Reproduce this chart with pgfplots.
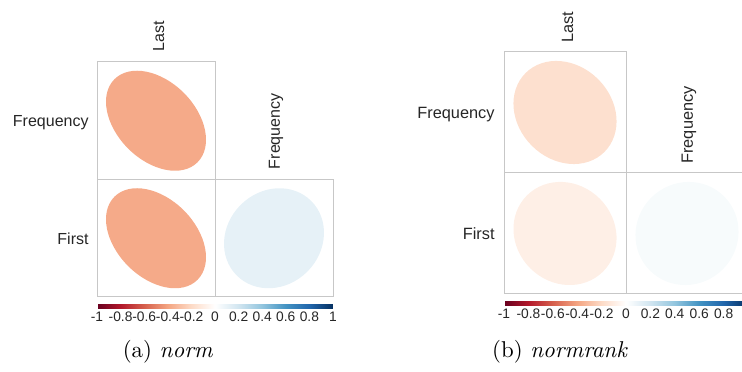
\documentclass[border=0pt]{standalone}
\usepackage{fontspec}
\usepackage{pgfplots}
\usepackage{pgfplotstable}
\pgfplotsset{compat=1.18}
\newfontfamily\arial{Liberation Sans}

% correlations (lower triangle): x = column (0.5 Last, 1.5 Frequency), y = row (1.5 Frequency, 0.5 First)
\pgfplotstableread{
x y r
0.5 1.5 -0.38
0.5 0.5 -0.38
1.5 0.5 0.11
}\corrnorm
\pgfplotstableread{
x y r
0.5 1.5 -0.17
0.5 0.5 -0.09
1.5 0.5 0.035
}\corrnormrank

\def\ellS{22.5}
\pgfdeclareplotmark{corrE}{%
  \pgfmathsetmacro\hh{acos(\rval)/2}%
  \pgfmathsetmacro\ca{\ellS*cos(\hh)}%
  \pgfmathsetmacro\sa{\ellS*sin(\hh)}%
  \pgfpathellipse{\pgfpointorigin}{\pgfpoint{\ca pt}{\ca pt}}{\pgfpoint{\sa pt}{-\sa pt}}%
  \pgfusepathqfill
}

\pgfplotsset{
  corrbase/.style={
    scale only axis, clip=false,
    xmin=0, xmax=2, ymin=0, ymax=2,
    axis line style={draw=none},
    xtick=\empty, ytick=\empty,
    colormap={RdBu}{rgb255=(103,0,31) rgb255=(178,24,43) rgb255=(214,96,77) rgb255=(244,165,130) rgb255=(253,219,199) rgb255=(255,255,255) rgb255=(209,229,240) rgb255=(146,197,222) rgb255=(67,147,195) rgb255=(33,102,172) rgb255=(5,48,97)},
    point meta min=-1, point meta max=1,
    colorbar horizontal,
    colorbar style={
      at={(parent axis.south west)}, anchor=north west, yshift=4.95pt,
      height=1.8pt,
      axis line style={draw=none},
      tick style={draw=none},
      xtick={-1,-0.8,-0.6,-0.4,-0.2,0,0.2,0.4,0.6,0.8,1},
      xticklabels={-1,-0.8,-0.6,-0.4,-0.2,0,0.2,0.4,0.6,0.8,1},
      major tick length=0pt,
      xticklabel style={font=\arial\fontsize{6.2}{7}\selectfont, inner sep=0pt, yshift=-1.1pt, text=black!85},
      ytick=\empty,
    },
  },
  corrplot/.style={
    scatter, only marks, mark=corrE,
    point meta=explicit,
    scatter/use mapped color={draw=none, fill=mapped color},
    visualization depends on={\thisrow{r}\as\rval},
  },
}
\tikzset{
  rowlab/.style={anchor=base east, inner sep=0pt, font=\arial\fontsize{#1}{9}\selectfont, text=black!85},
  collab/.style={inner sep=0pt, rotate=90, anchor=base west, font=\arial\fontsize{#1}{9}\selectfont, text=black!85},
  cell/.style={draw=black!22, line width=0.45pt},
}

\begin{document}
\begin{tikzpicture}
\useasboundingbox (0,0) rectangle (333.9pt,167.4pt);

% ---------------- (a) norm ----------------
\def\ellS{22.5}
\begin{axis}[corrbase, at={(43.65pt,33.75pt)}, anchor=south west, width=106.2pt, height=105.75pt]
\addplot[corrplot] table[x=x,y=y,meta=r] {\corrnorm};
\draw[cell] (axis cs:0,1) rectangle (axis cs:1,2);
\draw[cell] (axis cs:0,0) rectangle (axis cs:1,1);
\draw[cell] (axis cs:1,0) rectangle (axis cs:2,1);
\node[rowlab=7.2, xshift=-3.6pt, yshift=-2.6pt] at (axis cs:0,1.5) {Frequency};
\node[rowlab=7.2, xshift=-3.6pt, yshift=-2.6pt] at (axis cs:0,0.5) {First};
\node[xshift=3.6pt, yshift=4.5pt, collab=7.2] at (axis cs:0.5,2) {Last};
\node[xshift=2.6pt, yshift=4.5pt, collab=7.2] at (axis cs:1.5,1) {Frequency};
\end{axis}

% ---------------- (b) normrank ----------------
\def\ellS{23.2}
\begin{axis}[corrbase, at={(226.8pt,35.1pt)}, anchor=south west, width=109.8pt, height=108.9pt,
  colorbar style={xticklabels={-1,-0.8,-0.6,-0.4,-0.2,0,0.2,0.4,0.6,0.8,{}}}]
\addplot[corrplot] table[x=x,y=y,meta=r] {\corrnormrank};
\draw[cell] (axis cs:0,1) rectangle (axis cs:1,2);
\draw[cell] (axis cs:0,0) rectangle (axis cs:1,1);
\draw[cell] (axis cs:1,0) rectangle (axis cs:2,1);
\node[rowlab=7.35, xshift=-4.05pt, yshift=-2.6pt] at (axis cs:0,1.5) {Frequency};
\node[rowlab=7.35, xshift=-4.05pt, yshift=-2.6pt] at (axis cs:0,0.5) {First};
\node[xshift=3.6pt, yshift=4.05pt, collab=7.35] at (axis cs:0.5,2) {Last};
\node[xshift=2.6pt, yshift=4.05pt, collab=7.35] at (axis cs:1.5,1) {Frequency};
\end{axis}

% captions
\node[anchor=base, inner sep=0pt, font=\fontsize{10.3}{12}\selectfont] at (75.6pt,6.4pt) {(a) \textit{norm}};
\node[anchor=base, inner sep=0pt, font=\fontsize{10.3}{12}\selectfont] at (252pt,6.4pt) {(b) \textit{normrank}};
\end{tikzpicture}
\end{document}
